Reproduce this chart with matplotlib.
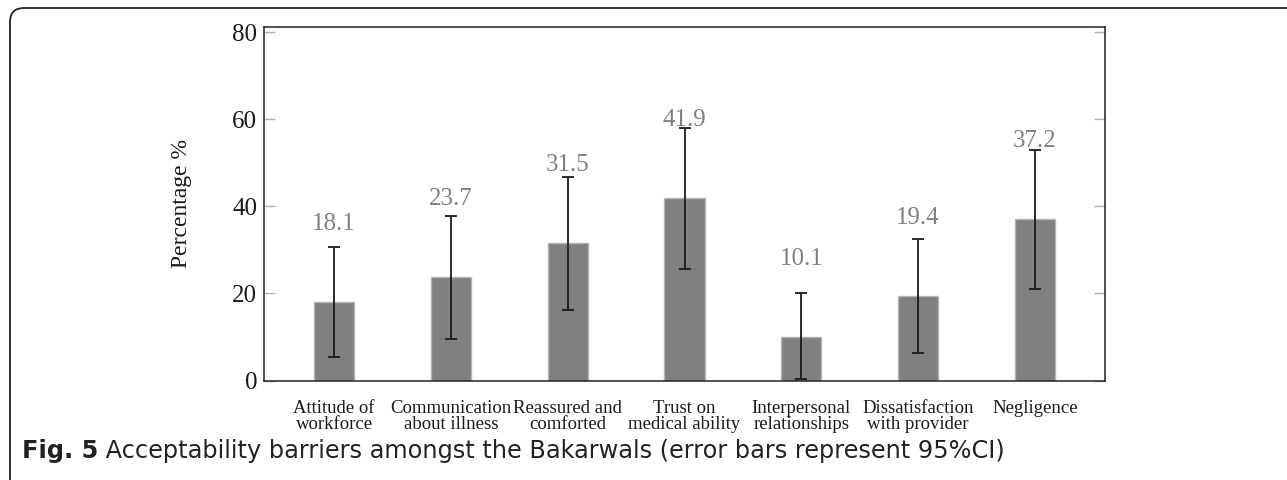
import numpy as np
import matplotlib
matplotlib.use("Agg")
import matplotlib.pyplot as plt
from matplotlib.patches import FancyBboxPatch


# Data
categories = ["Attitude of\nworkforce", "Communication\nabout illness",
              "Reassured and\ncomforted", "Trust on\nmedical ability",
              "Interpersonal\nrelationships", "Dissatisfaction\nwith provider",
              "Negligence"]
pct = [18.1, 23.7, 31.5, 41.9, 10.1, 19.4, 37.2]
ci_low = [5.3, 9.5, 16.2, 25.6, 0.3, 6.3, 21.1]
ci_high = [30.7, 37.7, 46.8, 58.0, 20.0, 32.5, 53.0]
yticks = [0, 20, 40, 60, 80]

caption_bold = "Fig. 5"
caption_rest = " Acceptability barriers amongst the Bakarwals (error bars represent 95%CI)"


def main():
    W, H = 1287, 480
    fig = plt.figure(figsize=(W / 100, H / 100), dpi=100)

    # outer rounded frame (pixel coords)
    frame = FancyBboxPatch((10, -30), 1320, 502, boxstyle="round,pad=0,rounding_size=14",
                           transform=None, fill=False, edgecolor="#222222", linewidth=1.3)
    fig.patches.append(frame)

    ax = fig.add_axes([264 / W, 1 - 380.5 / H, (1105 - 264) / W, (380.5 - 26.7) / H])

    x = np.arange(len(pct))
    vals = np.array(pct)
    yerr = np.vstack([vals - np.array(ci_low), np.array(ci_high) - vals])

    ax.bar(x, vals, width=0.345, color="#808080", edgecolor="#b4b4b4", linewidth=1.0, zorder=2)
    ax.errorbar(x, vals, yerr=yerr, fmt="none", ecolor="#1a1a1a", elinewidth=1.3,
                capsize=4, capthick=1.3, zorder=3)

    serif = "Liberation Serif"
    for xi, v in zip(x, vals):
        ax.annotate(f"{v:.1f}", xy=(xi, v), xytext=(0, 78), textcoords="offset pixels",
                    ha="center", va="center", color="#808080", fontsize=18, family=serif)

    ax.set_xlim(-0.6, 6.6)
    ax.set_ylim(0, 81.3)
    ax.set_yticks(yticks)
    ax.set_yticklabels([str(t) for t in yticks], family=serif, fontsize=18, color="#1a1a1a")
    ax.set_xticks(x)
    ax.set_xticklabels(categories, family=serif, fontsize=13.5, color="#1a1a1a",
                       linespacing=0.9)

    ax.tick_params(axis="y", direction="in", length=8, width=1, color="#b0b0b0",
                   right=True, pad=5)
    ax.tick_params(axis="x", direction="in", length=3, width=0.8, color="#b0b0b0",
                   pad=14)

    for s in ax.spines.values():
        s.set_linewidth(1.1)
        s.set_color("#222222")

    ax.set_ylabel("Percentage %", family=serif, fontsize=17, color="#1a1a1a")
    ax.yaxis.set_label_coords((192 - 264) / (1105 - 264), 0.5)

    # caption: bold "Fig. 5" followed by regular text, sized to span the reference width
    cap_y = 1 - 451 / H
    sans = "DejaVu Sans"
    size = 15
    t1 = fig.text(22 / W, cap_y, caption_bold, fontsize=size, fontweight="bold",
                  family=sans, color="#222222", va="center")
    fig.canvas.draw()
    bb = t1.get_window_extent()
    t2 = fig.text(bb.x1 / W, cap_y, caption_rest, fontsize=size, family=sans,
                  color="#222222", va="center")
    fig.canvas.draw()
    scale = (1003 - 22) / (t2.get_window_extent().x1 - 22)
    size = size * scale
    t1.set_fontsize(size)
    fig.canvas.draw()
    bb = t1.get_window_extent()
    t2.set_fontsize(size)
    t2.set_x(bb.x1 / W)

    fig.savefig("out.png", dpi=100)


if __name__ == "__main__":
    main()
